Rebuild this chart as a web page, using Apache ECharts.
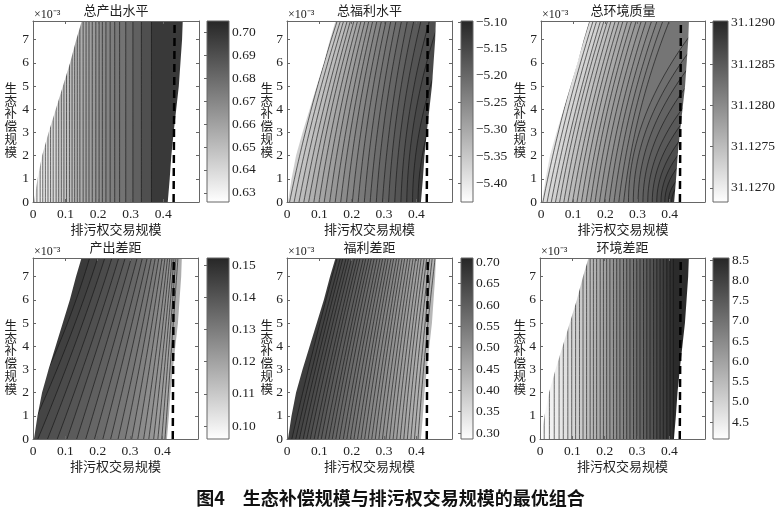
<!DOCTYPE html>
<html>
<head>
<meta charset="utf-8">
<script src="https://cdn.jsdelivr.net/npm/echarts@6/dist/echarts.min.js"></script>
<style>
  html, body { margin: 0; padding: 0; background: #fff; }
  #chart { width: 781px; height: 519px; }
</style>
</head>
<body>
<div id="chart"></div>
<script>
// 坐标范围（纵轴单位 ×10^-3）
const X_MAX = 0.51, Y_MAX = 7.8, Y_MID = 3.9;
const xTicks = [0, 0.1, 0.2, 0.3, 0.4];
const yTicks = [0, 1, 2, 3, 4, 5, 6, 7];

// 可行域左右边界与虚线
const edgeY = [0, 1, 2, 3, 4, 5, 6, 7, 7.8];
const leftEdgeX = [0.003, 0.014, 0.028, 0.048, 0.070, 0.092, 0.114, 0.133, 0.150];
const rightEdgeX = [0.414, 0.420, 0.425, 0.432, 0.440, 0.448, 0.453, 0.458, 0.460];
const dashX = [0.432, 0.435];
const dashY = [0, 7.8];

// 总产出水平：竖直等值线位置与取值
const outX = [0.003, 0.012, 0.022, 0.030, 0.038, 0.046, 0.054, 0.062, 0.071, 0.079,
  0.087, 0.095, 0.103, 0.112, 0.120, 0.128, 0.136, 0.144, 0.154, 0.163,
  0.172, 0.182, 0.193, 0.203, 0.213, 0.224, 0.237, 0.251, 0.266, 0.285,
  0.307, 0.333, 0.364];
const outLevels = [0.6305, 0.632, 0.6335, 0.635, 0.6365, 0.638, 0.6395, 0.641, 0.6425, 0.644,
  0.6455, 0.647, 0.6485, 0.650, 0.6515, 0.653, 0.6545, 0.656, 0.6575, 0.659,
  0.661, 0.663, 0.665, 0.667, 0.669, 0.671, 0.673, 0.675, 0.677, 0.680,
  0.684, 0.690, 0.698];
const outBase = 0.629;
const outBar = [0.626, 0.705];
const outBarTicks = [0.63, 0.64, 0.65, 0.66, 0.67, 0.68, 0.69, 0.70];

// 总福利水平：等值线在 y=0 / 3.9 / 7.8 处的横坐标
const welBottom = [0.008, 0.022, 0.037, 0.052, 0.067, 0.083, 0.099, 0.115, 0.132, 0.149,
  0.166, 0.184, 0.202, 0.220, 0.239, 0.257, 0.276, 0.295, 0.314, 0.333,
  0.352, 0.370, 0.388, 0.405];
const welMid = [0.073, 0.085, 0.098, 0.111, 0.124, 0.136, 0.150, 0.164, 0.178, 0.193,
  0.207, 0.222, 0.238, 0.254, 0.271, 0.288, 0.305, 0.324, 0.341, 0.360,
  0.379, 0.398, 0.422, 0.454];
const welTop = [0.155, 0.165, 0.175, 0.186, 0.196, 0.207, 0.218, 0.229, 0.241, 0.253,
  0.265, 0.278, 0.292, 0.306, 0.321, 0.337, 0.354, 0.372, 0.392, 0.414,
  0.440, 0.470, 0.520, 0.600];
const welLevels = [-5.350, -5.341, -5.331, -5.322, -5.312, -5.303, -5.293, -5.284, -5.274, -5.265,
  -5.255, -5.246, -5.236, -5.227, -5.217, -5.208, -5.198, -5.189, -5.179, -5.170,
  -5.160, -5.151, -5.141, -5.132];
const welBase = -5.36;
const welBar = [-5.435, -5.098];
const welBarTicks = [-5.40, -5.35, -5.30, -5.25, -5.20, -5.15, -5.10];

// 总环境质量
const envBottom = [0.006, 0.019, 0.032, 0.045, 0.058, 0.071, 0.084, 0.098, 0.112, 0.126,
  0.140, 0.154, 0.168, 0.182, 0.197, 0.212, 0.227, 0.242, 0.257, 0.272,
  0.287, 0.302, 0.317, 0.332, 0.346, 0.360, 0.373, 0.385, 0.396, 0.406];
const envMid = [0.070, 0.082, 0.094, 0.107, 0.117, 0.129, 0.142, 0.155, 0.167, 0.180,
  0.194, 0.206, 0.220, 0.234, 0.249, 0.263, 0.278, 0.293, 0.308, 0.329,
  0.350, 0.373, 0.400, 0.433, 0.468, 0.514, 0.569, 0.649, 0.847, 0.954];
const envTop = [0.151, 0.162, 0.173, 0.185, 0.196, 0.207, 0.218, 0.231, 0.243, 0.255,
  0.269, 0.282, 0.296, 0.312, 0.327, 0.344, 0.361, 0.379, 0.399, 0.498,
  0.539, 0.586, 0.647, 0.737, 0.834, 0.977, 1.156, 1.440, 2.200, 2.600];
const envLevels = [31.12718, 31.12724, 31.12729, 31.12735, 31.12741, 31.12747, 31.12753, 31.12758, 31.12764, 31.12770,
  31.12776, 31.12782, 31.12787, 31.12793, 31.12799, 31.12805, 31.12811, 31.12816, 31.12822, 31.12828,
  31.12834, 31.12840, 31.12845, 31.12851, 31.12857, 31.12863, 31.12869, 31.12874, 31.12880, 31.12886];
const envBase = 31.12712;
const envBar = [31.12683, 31.12902];
const envBarTicks = [31.1270, 31.1275, 31.1280, 31.1285, 31.1290];

// 产出差距
const outGapBottom = [-0.060, -0.020, 0.015, 0.045, 0.075, 0.105, 0.135, 0.163, 0.190, 0.216,
  0.240, 0.263, 0.285, 0.305, 0.324, 0.342, 0.358, 0.373, 0.386, 0.398, 0.408];
const outGapMid = [0.075, 0.100, 0.125, 0.150, 0.175, 0.198, 0.222, 0.245, 0.267, 0.287,
  0.306, 0.324, 0.340, 0.355, 0.369, 0.382, 0.393, 0.403, 0.412, 0.420, 0.428];
const outGapTop = [0.175, 0.200, 0.222, 0.244, 0.265, 0.285, 0.304, 0.322, 0.338, 0.353,
  0.366, 0.378, 0.389, 0.399, 0.408, 0.416, 0.423, 0.430, 0.436, 0.442, 0.448];
const outGapLevels = [0.1455, 0.1441, 0.1427, 0.1413, 0.1399, 0.1385, 0.1371, 0.1357, 0.1343, 0.1329,
  0.1315, 0.1301, 0.1287, 0.1273, 0.1259, 0.1245, 0.1231, 0.1217, 0.1203, 0.1189, 0.1175];
const outGapBase = 0.147;
const outGapBar = [0.096, 0.1522];
const outGapBarTicks = [0.10, 0.11, 0.12, 0.13, 0.14, 0.15];

// 福利差距
const welGapBottom = [0.015, 0.027, 0.038, 0.050, 0.061, 0.072, 0.084, 0.095, 0.106, 0.118,
  0.129, 0.140, 0.151, 0.162, 0.174, 0.185, 0.196, 0.207, 0.218, 0.229,
  0.240, 0.251, 0.262, 0.273, 0.284, 0.295, 0.306, 0.317, 0.328, 0.339,
  0.350, 0.361, 0.372, 0.383, 0.394, 0.405];
const welGapMid = [0.082, 0.093, 0.103, 0.113, 0.123, 0.133, 0.144, 0.153, 0.163, 0.174,
  0.184, 0.193, 0.203, 0.213, 0.224, 0.233, 0.243, 0.253, 0.263, 0.272,
  0.282, 0.292, 0.302, 0.311, 0.321, 0.331, 0.341, 0.350, 0.360, 0.370,
  0.380, 0.389, 0.399, 0.409, 0.419, 0.428];
const welGapTop = [0.155, 0.165, 0.173, 0.183, 0.191, 0.200, 0.209, 0.218, 0.226, 0.236,
  0.244, 0.253, 0.261, 0.270, 0.279, 0.288, 0.296, 0.305, 0.313, 0.322,
  0.330, 0.339, 0.347, 0.356, 0.364, 0.373, 0.381, 0.390, 0.398, 0.407,
  0.415, 0.424, 0.432, 0.441, 0.449, 0.458];
const welGapLevels = [0.655, 0.6485, 0.642, 0.6355, 0.629, 0.6225, 0.616, 0.6095, 0.603, 0.5965,
  0.590, 0.5835, 0.577, 0.5705, 0.564, 0.5575, 0.551, 0.5445, 0.538, 0.5315,
  0.525, 0.5185, 0.512, 0.5055, 0.499, 0.4925, 0.486, 0.4795, 0.473, 0.4665,
  0.460, 0.4535, 0.447, 0.4405, 0.434, 0.4275];
const welGapBase = 0.665;
const welGapBar = [0.286, 0.71];
const welGapBarTicks = [0.30, 0.35, 0.40, 0.45, 0.50, 0.55, 0.60, 0.65, 0.70];

// 环境差距：竖直等值线
const envGapX = [0.013, 0.029, 0.044, 0.059, 0.072, 0.086, 0.098, 0.110, 0.122, 0.133,
  0.144, 0.155, 0.165, 0.175, 0.186, 0.196, 0.206, 0.216, 0.227, 0.237,
  0.247, 0.258, 0.268, 0.278, 0.289, 0.299, 0.309, 0.320, 0.330, 0.340,
  0.351, 0.361, 0.371, 0.381, 0.392, 0.402, 0.412];
const envGapLevels = [4.25, 4.37, 4.48, 4.60, 4.72, 4.83, 4.95, 5.07, 5.18, 5.30,
  5.42, 5.53, 5.65, 5.77, 5.88, 6.00, 6.12, 6.23, 6.35, 6.47,
  6.58, 6.70, 6.82, 6.93, 7.05, 7.17, 7.28, 7.40, 7.52, 7.63,
  7.75, 7.87, 7.98, 8.10, 8.22, 8.33, 8.45];
const envGapBase = 4.15;
const envGapBar = [4.08, 8.55];
const envGapBarTicks = [4.5, 5.0, 5.5, 6.0, 6.5, 7.0, 7.5, 8.0, 8.5];

function vertBands(base, levels, xs) {
  return [[base, -1, -1, -1]].concat(levels.map((v, i) => [v, xs[i], xs[i], xs[i]]));
}
function curveBands(base, levels, b, m, t) {
  return [[base, -1, -1, -1]].concat(levels.map((v, i) => [v, b[i], m[i], t[i]]));
}

const panels = [
  { title: '总产出水平', bands: vertBands(outBase, outLevels, outX), bar: outBar, ticks: outBarTicks, digits: 2,
    left: 33, top: 21, width: 166, cbLeft: 207, cbWidth: 22, yNameX: 17 },
  { title: '总福利水平', bands: curveBands(welBase, welLevels, welBottom, welMid, welTop), bar: welBar, ticks: welBarTicks, digits: 2,
    left: 287, top: 21, width: 165, cbLeft: 461, cbWidth: 12, yNameX: 273 },
  { title: '总环境质量', bands: curveBands(envBase, envLevels, envBottom, envMid, envTop), bar: envBar, ticks: envBarTicks, digits: 4,
    left: 541, top: 21, width: 164, cbLeft: 713, cbWidth: 15, yNameX: 526 },
  { title: '产出差距', bands: curveBands(outGapBase, outGapLevels, outGapBottom, outGapMid, outGapTop), bar: outGapBar, ticks: outGapBarTicks, digits: 2,
    left: 33, top: 258, width: 165, cbLeft: 207, cbWidth: 22, yNameX: 17 },
  { title: '福利差距', bands: curveBands(welGapBase, welGapLevels, welGapBottom, welGapMid, welGapTop), bar: welGapBar, ticks: welGapBarTicks, digits: 2,
    left: 287, top: 258, width: 165, cbLeft: 461, cbWidth: 12, yNameX: 273 },
  { title: '环境差距', bands: vertBands(envGapBase, envGapLevels, envGapX), bar: envGapBar, ticks: envGapBarTicks, digits: 1,
    left: 540, top: 258, width: 165, cbLeft: 713, cbWidth: 16, yNameX: 526 }
];
const PLOT_H = 181;

const serif = 'Liberation Serif';
const cjk = 'Noto Sans CJK SC';
const axisColor = '#666';
const textColor = '#222';

// 每条等值线：过三点的二次曲线，右侧填充该等值线对应的灰度
function bandItem(params, api) {
  const xb = api.value(1), xm = api.value(2), xt = api.value(3);
  const pts = [];
  for (let s = 0; s <= 40; s++) {
    const u = 2 * s / 40;
    const x = xb * (u - 1) * (u - 2) / 2 - xm * u * (u - 2) + xt * u * (u - 1) / 2;
    pts.push(api.coord([x, u * Y_MID]));
  }
  const fillPts = pts.concat([api.coord([X_MAX, Y_MAX]), api.coord([X_MAX, 0])]);
  const children = [{ type: 'polygon', z2: 1, shape: { points: fillPts }, style: { fill: api.visual('color') } }];
  if (params.dataIndex > 0) {
    children.push({ type: 'polyline', z2: 5, shape: { points: pts },
      style: { stroke: '#111', lineWidth: 0.6, fill: null } });
  }
  return { type: 'group', children: children };
}

function colorbarItem(params, api) {
  const p0 = api.coord([0, api.value(1)]);
  const p1 = api.coord([1, api.value(0)]);
  return {
    type: 'rect',
    shape: { x: p0[0], y: p0[1], width: p1[0] - p0[0], height: p1[1] - p0[1] },
    style: {
      fill: new echarts.graphic.LinearGradient(0, 0, 0, 1, [
        { offset: 0, color: '#262626' }, { offset: 1, color: '#ffffff' }
      ]),
      stroke: axisColor, lineWidth: 1
    }
  };
}

const grid = [], xAxis = [], yAxis = [], series = [], visualMap = [], graphic = [];

panels.forEach((p, k) => {
  grid.push({ left: p.left, top: p.top, width: p.width, height: PLOT_H, outerBoundsMode: 'none' });
});
panels.forEach((p, k) => {
  grid.push({ left: p.cbLeft, top: p.top, width: p.cbWidth, height: PLOT_H, outerBoundsMode: 'none' });
});

// 主坐标轴
panels.forEach((p, k) => {
  xAxis.push({
    gridIndex: k, type: 'value', min: 0, max: X_MAX, z: 10,
    name: '排污权交易规模', nameLocation: 'middle', nameGap: 21, nameMoveOverlap: false,
    nameTextStyle: { fontFamily: cjk, fontSize: 13, color: textColor },
    axisLine: { show: true, onZero: false, lineStyle: { color: axisColor, width: 1 } },
    axisTick: { inside: true, length: 3, lineStyle: { color: axisColor }, customValues: xTicks },
    axisLabel: { margin: 5, fontFamily: serif, fontSize: 13.5, color: textColor, customValues: xTicks },
    splitLine: { show: false }
  });
  yAxis.push({
    gridIndex: k, type: 'value', min: 0, max: Y_MAX, z: 10,
    axisLine: { show: true, onZero: false, lineStyle: { color: axisColor, width: 1 } },
    axisTick: { inside: true, length: 3, lineStyle: { color: axisColor }, customValues: yTicks },
    axisLabel: { margin: 4, fontFamily: serif, fontSize: 13.5, color: textColor, customValues: yTicks },
    splitLine: { show: false }
  });
});
// 上、右边框
panels.forEach((p, k) => {
  xAxis.push({
    gridIndex: k, type: 'value', position: 'top', min: 0, max: X_MAX, z: 10,
    axisLine: { show: true, onZero: false, lineStyle: { color: axisColor, width: 1 } },
    axisTick: { inside: true, length: 3, lineStyle: { color: axisColor }, customValues: xTicks },
    axisLabel: { show: false }, splitLine: { show: false }
  });
  yAxis.push({
    gridIndex: k, type: 'value', position: 'right', min: 0, max: Y_MAX, z: 10,
    axisLine: { show: true, onZero: false, lineStyle: { color: axisColor, width: 1 } },
    axisTick: { inside: true, length: 3, lineStyle: { color: axisColor }, customValues: yTicks },
    axisLabel: { show: false }, splitLine: { show: false }
  });
});
// 色条坐标轴
panels.forEach((p, k) => {
  xAxis.push({ gridIndex: 6 + k, type: 'value', min: 0, max: 1, show: false });
  yAxis.push({
    gridIndex: 6 + k, type: 'value', position: 'right', min: p.bar[0], max: p.bar[1], z: 10,
    axisLine: { show: false },
    axisTick: { inside: true, length: 3, lineStyle: { color: axisColor }, customValues: p.ticks },
    axisLabel: {
      margin: 3, fontFamily: serif, fontSize: 13.5, color: textColor, customValues: p.ticks,
      formatter: v => (v < 0 ? '\u2212' : '') + Math.abs(v).toFixed(p.digits)
    },
    splitLine: { show: false }
  });
});

panels.forEach((p, k) => {
  series.push({
    type: 'custom', xAxisIndex: k, yAxisIndex: k, renderItem: bandItem,
    data: p.bands, clip: true, z: 2, silent: true
  });
  series.push({
    type: 'line', xAxisIndex: k, yAxisIndex: k, symbol: 'none', silent: true, z: 3,
    data: leftEdgeX.map((x, i) => [x, edgeY[i]]),
    lineStyle: { opacity: 0 }, areaStyle: { color: '#ffffff', opacity: 1, origin: 'end' }
  });
  series.push({
    type: 'line', xAxisIndex: k, yAxisIndex: k, symbol: 'none', silent: true, z: 3,
    data: rightEdgeX.map((x, i) => [x, edgeY[i]]).concat([[X_MAX, Y_MAX]]),
    lineStyle: { opacity: 0 }, areaStyle: { color: '#ffffff', opacity: 1, origin: 'start' }
  });
  series.push({
    type: 'line', xAxisIndex: k, yAxisIndex: k, symbol: 'none', silent: true, z: 4,
    data: dashX.map((x, i) => [x, dashY[i]]),
    lineStyle: { color: '#000', width: 2.5, type: [8, 5] }
  });
  visualMap.push({
    type: 'continuous', show: false, seriesIndex: 4 * k, dimension: 0,
    min: p.bar[0], max: p.bar[1], inRange: { color: ['#ffffff', '#262626'] }
  });
});
panels.forEach((p, k) => {
  series.push({
    type: 'custom', xAxisIndex: 12 + k, yAxisIndex: 12 + k, renderItem: colorbarItem,
    data: [[p.bar[0], p.bar[1]]], silent: true
  });
});

// 标题、纵轴名与 ×10^-3
panels.forEach((p, k) => {
  graphic.push({
    type: 'text', x: p.left + p.width / 2, y: p.top - 11,
    style: { text: p.title, font: '13px "' + cjk + '"', fill: textColor, align: 'center', verticalAlign: 'middle' }
  });
  graphic.push({
    type: 'text', x: p.left + 1, y: p.top - 6,
    style: { text: '×10⁻³', font: '12px "' + serif + '"', fill: textColor, align: 'left', verticalAlign: 'middle' }
  });
  graphic.push({
    type: 'text', x: p.yNameX, y: p.top + 99,
    style: { text: '生\n态\n补\n偿\n规\n模', font: '12.5px "' + cjk + '"', lineHeight: 12.7,
      fill: textColor, align: 'right', verticalAlign: 'middle' }
  });
});
graphic.push({
  type: 'text', x: 390.5, y: 498,
  style: { text: '图4　生态补偿规模与排污权交易规模的最优组合', font: 'bold 18px "' + cjk + '"',
    fill: '#111', align: 'center', verticalAlign: 'middle' }
});

const chart = echarts.init(document.getElementById('chart'));
chart.setOption({
  animation: false,
  backgroundColor: '#ffffff',
  grid: grid,
  xAxis: xAxis,
  yAxis: yAxis,
  visualMap: visualMap,
  series: series,
  graphic: graphic
});
</script>
</body>
</html>
